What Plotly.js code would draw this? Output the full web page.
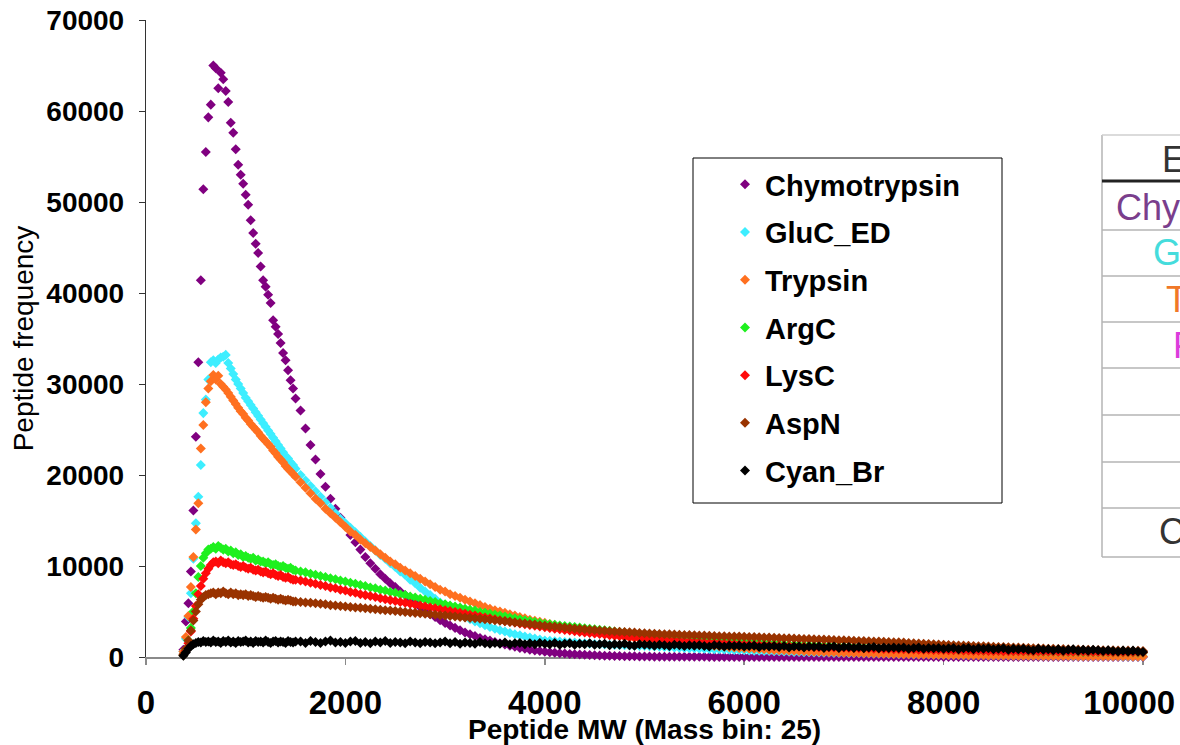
<!DOCTYPE html>
<html>
<head>
<meta charset="utf-8">
<script src="https://cdn.plot.ly/plotly-3.0.1.min.js"></script>
<style>
html,body{margin:0;padding:0;background:#fff;}
#chart{width:1180px;height:745px;}
</style>
</head>
<body>
<div id="chart"></div>
<script>
// Peptide MW bins (Da): fine bins near the peak, coarser bins in the tail
const massLow = [375,400,425,450,475,500,525,550,575,600,625,650,675,700,725,750,775,800,825,850,
875,900,925,950,975,1000,1025,1050,1075,1100,1125,1150,1175,1200,1225,1250,1275,1300,1325,1350,
1375,1400,1425,1450,1475,1500];
const massHigh = [1550,1600,1650,1700,1750,1800,1850,1900,1950,2000,
2050,2100,2150,2200,2250,2300,2350,2400,2450,2500,
2550,2600,2650,2700,2750,2800,2850,2900,2950,3000,
3050,3100,3150,3200,3250,3300,3350,3400,3450,3500,
3550,3600,3650,3700,3750,3800,3850,3900,3950,4000,
4050,4100,4150,4200,4250,4300,4350,4400,4450,4500,
4550,4600,4650,4700,4750,4800,4850,4900,4950,5000,
5050,5100,5150,5200,5250,5300,5350,5400,5450,5500,
5550,5600,5650,5700,5750,5800,5850,5900,5950,6000,
6050,6100,6150,6200,6250,6300,6350,6400,6450,6500,
6550,6600,6650,6700,6750,6800,6850,6900,6950,7000,
7050,7100,7150,7200,7250,7300,7350,7400,7450,7500,
7550,7600,7650,7700,7750,7800,7850,7900,7950,8000,
8050,8100,8150,8200,8250,8300,8350,8400,8450,8500,
8550,8600,8650,8700,8750,8800,8850,8900,8950,9000,
9050,9100,9150,9200,9250,9300,9350,9400,9450,9500,
9550,9600,9650,9700,9750,9800,9850,9900,9950,10000];

const chymotrypsin = [800,3900,5900,9400,16100,24200,32400,41400,51400,55500,
59300,60700,65000,64700,62500,64200,63500,62200,61000,58700,
57600,55800,54100,53000,52000,50800,49700,48000,46600,45400,
44400,42900,41400,40700,39800,38900,37000,36300,35500,34500,
33400,32600,31500,30400,29500,28400,
27100,25100,23300,21700,20100,18700,17400,16300,15300,14400,
13400,12600,11800,11000,10300,9700,9100,8600,8100,7700,
7200,6800,6400,6000,5500,5100,4700,4400,4050,3750,
3450,3200,2950,2700,2500,2300,2100,1950,1800,1650,
1500,1380,1250,1120,1000,900,800,720,650,590,
530,470,420,380,340,300,270,240,210,190,
170,150,130,115,100,90,80,70,60,50,
45,40,38,35,30,28,25,22,20,18,
16,15,14,12,10,10,8,8,6,6,
5,5,4,4,3,3,2,2,2,1,
1,1,1,0,0,1,0,0,0,0,
0,0,0,0,0,0,0,0,0,0,
0,0,0,0,0,0,0,0,0,0,
0,0,0,0,0,0,0,0,0,0,
0,0,0,0,0,0,0,0,0,0,
0,0,0,0,0,0,0,0,0,0,
0,0,0,0,0,0,0,0,0,0];

const glucED = [600,2000,4400,7000,10800,14700,17600,21100,26800,28300,
30500,32400,32600,32300,32700,32900,33000,33200,32300,31700,
31100,30500,30000,29500,29000,28500,28100,27700,27300,26900,
26500,26100,25700,25300,24900,24500,24100,23700,23300,22900,
22500,22100,21800,21400,21100,20700,
20000,19400,18800,18200,17600,17000,16400,15800,15200,14700,
14200,13700,13200,12700,12200,11700,11200,10800,10300,9900,
9400,9000,8500,8100,7600,7200,6800,6400,6000,5700,
5300,5000,4700,4400,4150,3900,3700,3500,3300,3100,
2950,2800,2650,2500,2380,2250,2130,2020,1920,1820,
1780,1740,1700,1660,1620,1580,1540,1500,1470,1440,
1410,1380,1350,1320,1300,1280,1260,1240,1220,1200,
1175,1150,1125,1100,1075,1050,1025,1000,975,950,
925,900,880,860,840,820,800,780,760,740,
720,700,685,670,655,640,620,600,580,560,
545,530,515,500,490,480,465,450,440,430,
420,410,400,390,380,370,360,350,340,330,
315,305,295,285,275,270,265,255,245,235,
225,220,210,205,195,190,185,180,175,170,
165,160,155,150,145,140,135,130,125,120,
115,110,105,103,100,96,93,90,87,84,
81,78,76,74,71,68,66,64,61,58];

const trypsin = [600,2200,4500,7700,11000,14000,16900,22900,25500,28000,
29500,30300,31000,30500,30900,30000,29700,29400,29000,28600,
28200,27800,27400,27000,26700,26300,26000,25600,25300,25000,
24700,24300,24000,23700,23400,23100,22700,22400,22000,21700,
21400,21000,20700,20400,20100,19800,
19200,18600,18000,17400,16900,16300,15800,15300,14800,14300,
13800,13400,12900,12500,12100,11700,11300,10900,10500,10200,
9800,9500,9200,8900,8600,8300,8000,7700,7400,7200,
6900,6700,6500,6300,6100,5900,5700,5500,5300,5150,
5000,4850,4700,4550,4400,4250,4100,3980,3860,3750,
3630,3520,3410,3300,3200,3100,3000,2910,2820,2740,
2650,2560,2470,2390,2310,2230,2150,2080,2010,1950,
1880,1820,1760,1700,1640,1590,1530,1480,1430,1380,
1330,1290,1240,1200,1160,1120,1080,1040,1000,970,
930,900,870,840,810,780,750,730,700,680,
650,630,610,590,570,550,530,510,490,475,
460,445,430,415,400,385,375,360,350,340,
325,315,305,295,285,275,265,255,245,240,
230,225,215,210,200,195,190,180,175,170,
165,160,155,150,145,140,135,130,125,120,
115,110,108,105,100,98,95,92,90,87,
85,82,80,78,75,72,70,68,65,62];

const argC = [200,800,1800,3200,5000,7000,8800,10000,10900,11400,
11800,11900,12100,11900,12200,12000,11800,11900,11600,11700,
11400,11500,11200,11300,11000,11100,10900,10800,10900,10600,
10700,10500,10500,10300,10400,10200,10100,10200,10000,9900,
10000,9800,9700,9800,9600,9500,
9400,9300,9150,9050,8900,8800,8650,8550,8400,8300,
8150,8050,7900,7800,7650,7550,7400,7300,7150,7050,
6900,6800,6650,6550,6400,6300,6150,6050,5900,5800,
5650,5550,5450,5300,5200,5100,4950,4850,4750,4650,
4550,4450,4350,4250,4150,4050,3950,3850,3750,3650,
3590,3530,3470,3410,3350,3290,3230,3170,3110,3050,
2990,2930,2870,2810,2750,2690,2630,2570,2510,2450,
2400,2350,2300,2250,2200,2160,2120,2080,2040,2000,
1960,1920,1880,1840,1800,1770,1740,1710,1680,1650,
1620,1590,1560,1530,1500,1470,1440,1410,1380,1350,
1320,1300,1280,1260,1240,1220,1200,1180,1160,1140,
1120,1100,1080,1060,1040,1020,1000,980,960,940,
920,905,890,875,860,845,830,815,800,785,
770,760,750,740,730,720,710,700,690,680,
670,660,650,640,630,620,610,600,590,580,
570,565,560,555,550,545,540,535,530,525,
520,515,510,505,500,495,490,485,480,475];

const lysC = [200,700,1500,2800,4200,5600,6900,7800,8600,9200,
9700,10100,10400,10500,10300,10600,10400,10300,10400,10200,
10100,10200,10000,9900,10000,9800,9700,9800,9600,9500,
9600,9400,9300,9400,9200,9100,9200,9000,8900,9000,
8800,8700,8800,8600,8500,8500,
8400,8300,8150,8050,7900,7800,7650,7550,7400,7300,
7150,7050,6900,6800,6700,6600,6450,6350,6250,6150,
6050,5950,5850,5750,5650,5550,5450,5350,5250,5150,
5050,4950,4850,4750,4650,4550,4450,4350,4250,4150,
4050,3960,3870,3780,3690,3600,3510,3430,3350,3270,
3190,3110,3040,2970,2900,2830,2760,2700,2640,2580,
2520,2460,2400,2350,2300,2250,2200,2150,2100,2050,
2000,1960,1920,1880,1840,1800,1760,1720,1690,1660,
1630,1600,1570,1540,1510,1480,1450,1420,1400,1380,
1360,1340,1320,1300,1280,1260,1240,1220,1200,1180,
1160,1140,1120,1100,1085,1070,1055,1040,1025,1010,
995,980,965,950,935,920,905,890,875,860,
850,840,830,820,810,800,790,780,770,760,
750,740,730,720,710,700,690,680,670,660,
650,645,640,635,630,625,620,615,610,605,
600,595,590,585,580,575,570,565,560,555,
550,545,540,535,530,525,520,515,510,505];

const aspN = [300,900,1800,2900,4000,5000,5800,6300,6600,6800,
6900,7000,7100,6900,7100,7000,7200,7000,6900,7100,
6900,7000,6800,6900,6800,6900,6700,6800,6700,6600,
6700,6600,6500,6600,6500,6400,6500,6400,6300,6400,
6300,6200,6300,6200,6100,6100,
6050,6000,5950,5900,5850,5800,5700,5650,5600,5550,
5500,5450,5400,5350,5300,5250,5200,5150,5100,5050,
5000,4950,4900,4850,4800,4750,4700,4650,4600,4550,
4500,4450,4400,4350,4300,4250,4200,4150,4100,4050,
3980,3920,3860,3800,3740,3680,3620,3560,3500,3440,
3390,3340,3290,3240,3190,3140,3090,3040,3000,2960,
2920,2880,2840,2800,2770,2740,2710,2680,2650,2620,
2590,2560,2530,2510,2490,2470,2450,2430,2410,2390,
2370,2350,2330,2310,2290,2270,2260,2250,2240,2230,
2210,2190,2170,2150,2130,2110,2090,2070,2050,2030,
2010,1990,1970,1950,1930,1910,1890,1870,1850,1830,
1810,1790,1770,1750,1730,1710,1690,1670,1650,1630,
1610,1580,1550,1520,1490,1460,1430,1400,1370,1340,
1310,1290,1270,1250,1230,1210,1190,1170,1150,1130,
1110,1090,1070,1050,1030,1010,990,970,950,930,
910,895,880,865,850,835,820,805,790,775,
760,750,740,730,720,710,700,690,680,670];

const cyanBr = [150,500,900,1200,1400,1550,1650,1600,1750,1650,
1700,1600,1800,1650,1700,1550,1750,1650,1800,1600,
1700,1550,1750,1650,1700,1800,1600,1700,1550,1750,
1650,1700,1600,1800,1650,1550,1700,1750,1600,1700,
1650,1550,1750,1650,1600,1700,
1700,1550,1750,1650,1550,1700,1800,1600,1650,1550,
1700,1750,1550,1650,1500,1700,1600,1750,1550,1650,
1600,1500,1700,1600,1500,1650,1600,1500,1600,1700,
1500,1650,1450,1600,1550,1450,1650,1500,1450,1550,
1450,1600,1400,1500,1550,1400,1500,1400,1550,1450,
1400,1550,1350,1450,1500,1350,1450,1400,1500,1350,
1400,1450,1300,1400,1350,1450,1300,1250,1400,1350,
1350,1250,1350,1300,1200,1350,1300,1200,1300,1250,
1300,1200,1150,1300,1250,1150,1250,1200,1250,1150,
1200,1250,1100,1200,1150,1200,1100,1200,1050,1150,
1150,1050,1150,1100,1150,1000,1100,1150,1000,1100,
1100,1000,1100,950,1050,1100,950,1050,1000,1050,
1000,1050,900,1000,1050,900,1000,950,1000,900,
950,1000,850,950,1000,850,950,900,950,850,
900,950,800,900,850,900,800,750,900,800,
850,750,850,700,800,850,700,800,700,800,
750,650,750,650,600,700,600,700,600,550];

const seriesNames = ['Chymotrypsin','GluC_ED','Trypsin','ArgC','LysC','AspN','Cyan_Br'];
const seriesValues = [chymotrypsin, glucED, trypsin, argC, lysC, aspN, cyanBr];
const seriesColors = ['#800080','#3DEEFF','#FF7020','#1EF01E','#FF0A0A','#993300','#000000'];

const xTicks = [0,2000,4000,6000,8000,10000];
const xTickLabels = ['0','2000','4000','6000','8000','10000\u00a0\u00a0\u00a0'];
const yTicks = [0,10000,20000,30000,40000,50000,60000,70000];

// side table (cropped at the right edge of the figure)
const tableRows = ['Enzyme','Chymotrypsin','GluC_ED','Trypsin','Pepsin','','','','CNBr'];
const tableColors = ['#333333','#7A3E8C','#45DCDC','#F07828','#DC3CDC','#333','#333','#333','#333333'];

const mass = massLow.concat(massHigh);
seriesValues.forEach((v,i)=>{ if(v.length!==mass.length) throw new Error(seriesNames[i]+' length '+v.length+' vs '+mass.length); });

const FONT = 'Liberation Sans, Arial, sans-serif';
const L = 146, R = 1143, T = 20, B = 657;
const px = p => (p - L) / (R - L);
const py = p => (B - p) / (B - T);

const traces = seriesNames.map((n,i)=>({
  type:'scatter', mode:'markers', name:n, legendgroup:n,
  x: mass, y: seriesValues[i], cliponaxis:false,
  marker:{symbol:'diamond', size:7.7, color:seriesColors[i], line:{width:0}},
  hoverinfo:'skip'
}));

const shapes = [];
// legend frame
shapes.push({type:'rect', xref:'paper', yref:'paper', x0:px(693), x1:px(1002), y0:py(503), y1:py(158),
  line:{color:'#000', width:1}, fillcolor:'rgba(0,0,0,0)'});
// table
const gridLine = {color:'#b4b4b4', width:1.5};
shapes.push({type:'line', xref:'paper', yref:'paper', x0:px(1102), x1:px(1102), y0:py(135), y1:py(557), line:gridLine});
shapes.push({type:'line', xref:'paper', yref:'paper', x0:px(1102), x1:px(1300), y0:py(135), y1:py(135), line:{color:'#cfcfcf', width:1.5}});
shapes.push({type:'line', xref:'paper', yref:'paper', x0:px(1102), x1:px(1300), y0:py(181), y1:py(181), line:{color:'#222', width:3}});
[230,276,322,368,415,462,508,557].forEach(yy=>{
  shapes.push({type:'line', xref:'paper', yref:'paper', x0:px(1102), x1:px(1300), y0:py(yy), y1:py(yy), line:gridLine});
});

const annotations = [];
annotations.push({xref:'paper', yref:'paper', x:0.5, y:py(729), xanchor:'center', yanchor:'middle', showarrow:false,
  text:'Peptide MW (Mass bin: 25)', font:{family:FONT, size:28, weight:'bold', color:'#000'}});
const rowY = [159,207,253,299,345,392,439,486,531];
const rowX = [1160,1114,1151,1164,1171,1180,1180,1180,1157];
tableRows.forEach((t,i)=>{
  if(!t) return;
  annotations.push({xref:'paper', yref:'paper', x:px(rowX[i]), y:py(rowY[i]), xanchor:'left', yanchor:'middle',
    showarrow:false, text:t, font:{family:FONT, size:36, color:tableColors[i]}});
});

const layout = {
  width:1180, height:745,
  margin:{l:L, r:1180-R, t:T, b:745-B, pad:0},
  paper_bgcolor:'#fff', plot_bgcolor:'#fff',
  font:{family:FONT, color:'#000'},
  showlegend:true,
  legend:{x:px(725), y:py(159), xanchor:'left', yanchor:'top', bgcolor:'rgba(0,0,0,0)', borderwidth:0,
    tracegroupgap:7, font:{family:FONT, size:29, weight:'bold', color:'#000'}},
  xaxis:{range:[0,10000], tickvals:xTicks, ticktext:xTickLabels, showgrid:false, zeroline:false,
    showline:true, linecolor:'#8a8a8a', linewidth:1.5, ticks:'outside', ticklen:6, tickcolor:'#8a8a8a', tickwidth:1.5,
    ticklabelstandoff:10, ticklabeloverflow:'allow', layer:'below traces',
    tickfont:{family:FONT, size:33, weight:'bold', color:'#000'}},
  yaxis:{range:[0,70000], tickvals:yTicks, tickformat:'d', showgrid:false, zeroline:false,
    showline:true, linecolor:'#333', linewidth:1.2, ticks:'outside', ticklen:6, tickcolor:'#333',
    ticklabelstandoff:9, layer:'below traces',
    tickfont:{family:FONT, size:28, weight:'bold', color:'#000'},
    title:{text:'Peptide frequency', standoff:4, font:{family:FONT, size:28, color:'#000'}}},
  shapes:shapes, annotations:annotations
};

Plotly.newPlot('chart', traces, layout, {displayModeBar:false, staticPlot:true});
</script>
</body>
</html>
